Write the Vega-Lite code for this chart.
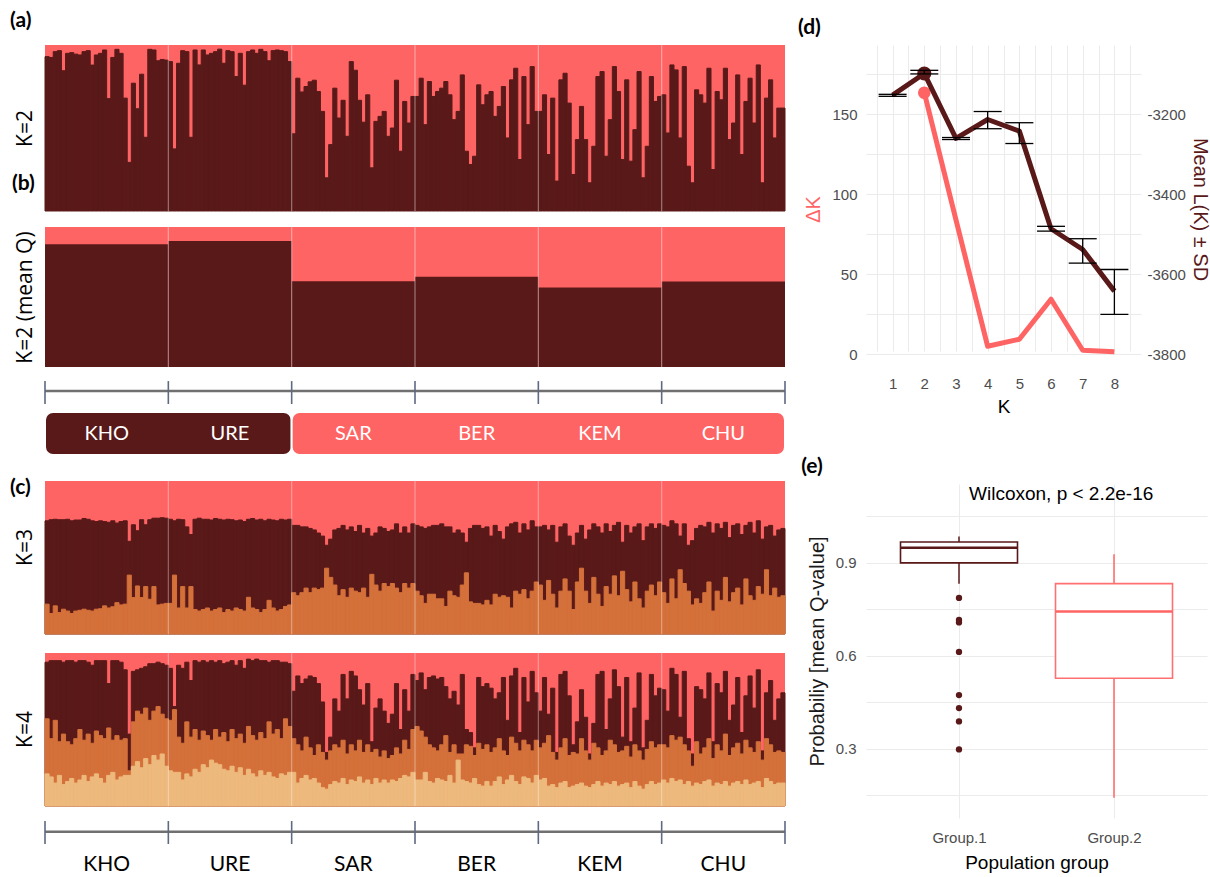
{
"$schema":"https://vega.github.io/schema/vega-lite/v6.json",
"padding":{"left":10,"top":10,"right":3,"bottom":3},
"background":"white",
"config":{"view":{"stroke":null},"font":"Liberation Sans"},
"datasets":{
"ind":[
{"id":1,"pop":"KHO","k2":0.93,"k3o":0.195,"k3d":0.74,"k4l":0.21,"k4o":0.57,"k4d":0.94},
{"id":2,"pop":"KHO","k2":0.925,"k3o":0.134,"k3d":0.747,"k4l":0.19,"k4o":0.44,"k4d":0.95},
{"id":3,"pop":"KHO","k2":0.96,"k3o":0.184,"k3d":0.75,"k4l":0.15,"k4o":0.56,"k4d":0.95},
{"id":4,"pop":"KHO","k2":0.966,"k3o":0.14,"k3d":0.747,"k4l":0.2,"k4o":0.42,"k4d":0.95},
{"id":5,"pop":"KHO","k2":0.845,"k3o":0.162,"k3d":0.747,"k4l":0.14,"k4o":0.47,"k4d":0.94},
{"id":6,"pop":"KHO","k2":0.95,"k3o":0.15,"k3d":0.75,"k4l":0.16,"k4o":0.42,"k4d":0.95},
{"id":7,"pop":"KHO","k2":0.954,"k3o":0.134,"k3d":0.74,"k4l":0.18,"k4o":0.4,"k4d":0.95},
{"id":8,"pop":"KHO","k2":0.945,"k3o":0.15,"k3d":0.745,"k4l":0.15,"k4o":0.44,"k4d":0.94},
{"id":9,"pop":"KHO","k2":0.94,"k3o":0.155,"k3d":0.745,"k4l":0.17,"k4o":0.5,"k4d":0.95},
{"id":10,"pop":"KHO","k2":0.96,"k3o":0.162,"k3d":0.755,"k4l":0.2,"k4o":0.43,"k4d":0.95},
{"id":11,"pop":"KHO","k2":0.966,"k3o":0.155,"k3d":0.75,"k4l":0.16,"k4o":0.47,"k4d":0.94},
{"id":12,"pop":"KHO","k2":0.879,"k3o":0.15,"k3d":0.74,"k4l":0.19,"k4o":0.41,"k4d":0.92},
{"id":13,"pop":"KHO","k2":0.94,"k3o":0.162,"k3d":0.735,"k4l":0.21,"k4o":0.49,"k4d":0.95},
{"id":14,"pop":"KHO","k2":0.95,"k3o":0.165,"k3d":0.74,"k4l":0.18,"k4o":0.46,"k4d":0.95},
{"id":15,"pop":"KHO","k2":0.97,"k3o":0.184,"k3d":0.735,"k4l":0.15,"k4o":0.44,"k4d":0.95},
{"id":16,"pop":"KHO","k2":0.677,"k3o":0.17,"k3d":0.73,"k4l":0.2,"k4o":0.51,"k4d":0.8},
{"id":17,"pop":"KHO","k2":0.925,"k3o":0.178,"k3d":0.74,"k4l":0.22,"k4o":0.43,"k4d":0.95},
{"id":18,"pop":"KHO","k2":0.974,"k3o":0.205,"k3d":0.725,"k4l":0.17,"k4o":0.46,"k4d":0.95},
{"id":19,"pop":"KHO","k2":0.95,"k3o":0.19,"k3d":0.735,"k4l":0.19,"k4o":0.43,"k4d":0.94},
{"id":20,"pop":"KHO","k2":0.68,"k3o":0.195,"k3d":0.74,"k4l":0.2,"k4o":0.44,"k4d":0.89},
{"id":21,"pop":"KHO","k2":0.293,"k3o":0.385,"k3d":0.606,"k4l":0.2,"k4o":0.23,"k4d":0.47},
{"id":22,"pop":"KHO","k2":0.77,"k3o":0.238,"k3d":0.714,"k4l":0.26,"k4o":0.55,"k4d":0.88},
{"id":23,"pop":"KHO","k2":0.616,"k3o":0.314,"k3d":0.675,"k4l":0.29,"k4o":0.62,"k4d":0.89},
{"id":24,"pop":"KHO","k2":0.824,"k3o":0.238,"k3d":0.747,"k4l":0.25,"k4o":0.6,"k4d":0.9},
{"id":25,"pop":"KHO","k2":0.444,"k3o":0.31,"k3d":0.714,"k4l":0.31,"k4o":0.64,"k4d":0.91},
{"id":26,"pop":"KHO","k2":0.974,"k3o":0.227,"k3d":0.747,"k4l":0.27,"k4o":0.56,"k4d":0.93},
{"id":27,"pop":"KHO","k2":0.97,"k3o":0.31,"k3d":0.757,"k4l":0.33,"k4o":0.62,"k4d":0.93},
{"id":28,"pop":"KHO","k2":0.905,"k3o":0.19,"k3d":0.757,"k4l":0.3,"k4o":0.65,"k4d":0.94},
{"id":29,"pop":"KHO","k2":0.913,"k3o":0.195,"k3d":0.76,"k4l":0.34,"k4o":0.6,"k4d":0.93},
{"id":30,"pop":"KHO","k2":0.909,"k3o":0.2,"k3d":0.757,"k4l":0.26,"k4o":0.57,"k4d":0.92},
{"id":31,"pop":"URE","k2":0.9,"k3o":0.2,"k3d":0.75,"k4l":0.23,"k4o":0.56,"k4d":0.9},
{"id":32,"pop":"URE","k2":0.374,"k3o":0.385,"k3d":0.74,"k4l":0.22,"k4o":0.63,"k4d":0.65},
{"id":33,"pop":"URE","k2":0.89,"k3o":0.17,"k3d":0.75,"k4l":0.22,"k4o":0.45,"k4d":0.92},
{"id":34,"pop":"URE","k2":0.966,"k3o":0.31,"k3d":0.747,"k4l":0.17,"k4o":0.41,"k4d":0.9},
{"id":35,"pop":"URE","k2":0.96,"k3o":0.17,"k3d":0.7,"k4l":0.21,"k4o":0.55,"k4d":0.94},
{"id":36,"pop":"URE","k2":0.444,"k3o":0.31,"k3d":0.65,"k4l":0.19,"k4o":0.45,"k4d":0.82},
{"id":37,"pop":"URE","k2":0.97,"k3o":0.16,"k3d":0.75,"k4l":0.24,"k4o":0.5,"k4d":0.95},
{"id":38,"pop":"URE","k2":0.88,"k3o":0.15,"k3d":0.757,"k4l":0.22,"k4o":0.43,"k4d":0.94},
{"id":39,"pop":"URE","k2":0.97,"k3o":0.16,"k3d":0.75,"k4l":0.27,"k4o":0.49,"k4d":0.95},
{"id":40,"pop":"URE","k2":0.94,"k3o":0.17,"k3d":0.75,"k4l":0.25,"k4o":0.46,"k4d":0.94},
{"id":41,"pop":"URE","k2":0.95,"k3o":0.15,"k3d":0.745,"k4l":0.3,"k4o":0.43,"k4d":0.95},
{"id":42,"pop":"URE","k2":0.96,"k3o":0.16,"k3d":0.755,"k4l":0.28,"k4o":0.5,"k4d":0.94},
{"id":43,"pop":"URE","k2":0.975,"k3o":0.17,"k3d":0.75,"k4l":0.27,"k4o":0.45,"k4d":0.95},
{"id":44,"pop":"URE","k2":0.89,"k3o":0.14,"k3d":0.745,"k4l":0.24,"k4o":0.48,"k4d":0.93},
{"id":45,"pop":"URE","k2":0.966,"k3o":0.16,"k3d":0.75,"k4l":0.23,"k4o":0.42,"k4d":0.94},
{"id":46,"pop":"URE","k2":0.96,"k3o":0.15,"k3d":0.747,"k4l":0.26,"k4o":0.5,"k4d":0.95},
{"id":47,"pop":"URE","k2":0.81,"k3o":0.17,"k3d":0.74,"k4l":0.22,"k4o":0.44,"k4d":0.92},
{"id":48,"pop":"URE","k2":0.95,"k3o":0.16,"k3d":0.745,"k4l":0.25,"k4o":0.47,"k4d":0.95},
{"id":49,"pop":"URE","k2":0.758,"k3o":0.15,"k3d":0.735,"k4l":0.2,"k4o":0.41,"k4d":0.9},
{"id":50,"pop":"URE","k2":0.96,"k3o":0.24,"k3d":0.75,"k4l":0.24,"k4o":0.52,"k4d":0.96},
{"id":51,"pop":"URE","k2":0.97,"k3o":0.17,"k3d":0.755,"k4l":0.21,"k4o":0.46,"k4d":0.95},
{"id":52,"pop":"URE","k2":0.95,"k3o":0.16,"k3d":0.745,"k4l":0.19,"k4o":0.43,"k4d":0.96},
{"id":53,"pop":"URE","k2":0.974,"k3o":0.14,"k3d":0.75,"k4l":0.23,"k4o":0.48,"k4d":0.95},
{"id":54,"pop":"URE","k2":0.96,"k3o":0.16,"k3d":0.74,"k4l":0.2,"k4o":0.44,"k4d":0.95},
{"id":55,"pop":"URE","k2":0.905,"k3o":0.22,"k3d":0.75,"k4l":0.22,"k4o":0.55,"k4d":0.94},
{"id":56,"pop":"URE","k2":0.966,"k3o":0.17,"k3d":0.745,"k4l":0.19,"k4o":0.47,"k4d":0.95},
{"id":57,"pop":"URE","k2":0.97,"k3o":0.15,"k3d":0.74,"k4l":0.18,"k4o":0.5,"k4d":0.95},
{"id":58,"pop":"URE","k2":0.966,"k3o":0.16,"k3d":0.75,"k4l":0.21,"k4o":0.44,"k4d":0.94},
{"id":59,"pop":"URE","k2":0.96,"k3o":0.18,"k3d":0.745,"k4l":0.2,"k4o":0.57,"k4d":0.94},
{"id":60,"pop":"URE","k2":0.9,"k3o":0.19,"k3d":0.75,"k4l":0.22,"k4o":0.52,"k4d":0.93},
{"id":61,"pop":"SAR","k2":0.465,"k3o":0.27,"k3d":0.71,"k4l":0.22,"k4o":0.44,"k4d":0.75},
{"id":62,"pop":"SAR","k2":0.8,"k3o":0.25,"k3d":0.71,"k4l":0.15,"k4o":0.4,"k4d":0.85},
{"id":63,"pop":"SAR","k2":0.717,"k3o":0.27,"k3d":0.7,"k4l":0.18,"k4o":0.36,"k4d":0.8},
{"id":64,"pop":"SAR","k2":0.75,"k3o":0.3,"k3d":0.7,"k4l":0.2,"k4o":0.45,"k4d":0.83},
{"id":65,"pop":"SAR","k2":0.778,"k3o":0.27,"k3d":0.69,"k4l":0.17,"k4o":0.38,"k4d":0.85},
{"id":66,"pop":"SAR","k2":0.788,"k3o":0.3,"k3d":0.68,"k4l":0.18,"k4o":0.33,"k4d":0.84},
{"id":67,"pop":"SAR","k2":0.72,"k3o":0.29,"k3d":0.66,"k4l":0.15,"k4o":0.4,"k4d":0.8},
{"id":68,"pop":"SAR","k2":0.6,"k3o":0.3,"k3d":0.64,"k4l":0.12,"k4o":0.35,"k4d":0.68},
{"id":69,"pop":"SAR","k2":0.2,"k3o":0.43,"k3d":0.58,"k4l":0.11,"k4o":0.3,"k4d":0.35},
{"id":70,"pop":"SAR","k2":0.4,"k3o":0.37,"k3d":0.62,"k4l":0.14,"k4o":0.36,"k4d":0.45},
{"id":71,"pop":"SAR","k2":0.74,"k3o":0.32,"k3d":0.68,"k4l":0.16,"k4o":0.4,"k4d":0.7},
{"id":72,"pop":"SAR","k2":0.56,"k3o":0.25,"k3d":0.69,"k4l":0.15,"k4o":0.38,"k4d":0.62},
{"id":73,"pop":"SAR","k2":0.667,"k3o":0.29,"k3d":0.71,"k4l":0.18,"k4o":0.43,"k4d":0.86},
{"id":74,"pop":"SAR","k2":0.45,"k3o":0.24,"k3d":0.68,"k4l":0.14,"k4o":0.34,"k4d":0.7},
{"id":75,"pop":"SAR","k2":0.9,"k3o":0.3,"k3d":0.7,"k4l":0.17,"k4o":0.4,"k4d":0.88},
{"id":76,"pop":"SAR","k2":0.848,"k3o":0.28,"k3d":0.67,"k4l":0.16,"k4o":0.36,"k4d":0.85},
{"id":77,"pop":"SAR","k2":0.667,"k3o":0.27,"k3d":0.71,"k4l":0.19,"k4o":0.43,"k4d":0.76},
{"id":78,"pop":"SAR","k2":0.535,"k3o":0.3,"k3d":0.66,"k4l":0.15,"k4o":0.35,"k4d":0.66},
{"id":79,"pop":"SAR","k2":0.7,"k3o":0.24,"k3d":0.69,"k4l":0.17,"k4o":0.4,"k4d":0.8},
{"id":80,"pop":"SAR","k2":0.26,"k3o":0.39,"k3d":0.64,"k4l":0.14,"k4o":0.35,"k4d":0.42},
{"id":81,"pop":"SAR","k2":0.54,"k3o":0.32,"k3d":0.66,"k4l":0.18,"k4o":0.37,"k4d":0.64},
{"id":82,"pop":"SAR","k2":0.57,"k3o":0.28,"k3d":0.7,"k4l":0.15,"k4o":0.32,"k4d":0.7},
{"id":83,"pop":"SAR","k2":0.6,"k3o":0.33,"k3d":0.69,"k4l":0.17,"k4o":0.36,"k4d":0.62},
{"id":84,"pop":"SAR","k2":0.45,"k3o":0.31,"k3d":0.67,"k4l":0.15,"k4o":0.31,"k4d":0.54},
{"id":85,"pop":"SAR","k2":0.5,"k3o":0.33,"k3d":0.68,"k4l":0.17,"k4o":0.33,"k4d":0.6},
{"id":86,"pop":"SAR","k2":0.788,"k3o":0.3,"k3d":0.72,"k4l":0.16,"k4o":0.38,"k4d":0.8},
{"id":87,"pop":"SAR","k2":0.36,"k3o":0.27,"k3d":0.66,"k4l":0.18,"k4o":0.34,"k4d":0.5},
{"id":88,"pop":"SAR","k2":0.66,"k3o":0.33,"k3d":0.7,"k4l":0.2,"k4o":0.43,"k4d":0.76},
{"id":89,"pop":"SAR","k2":0.53,"k3o":0.3,"k3d":0.66,"k4l":0.19,"k4o":0.37,"k4d":0.62},
{"id":90,"pop":"SAR","k2":0.69,"k3o":0.33,"k3d":0.72,"k4l":0.22,"k4o":0.5,"k4d":0.86},
{"id":91,"pop":"BER","k2":0.69,"k3o":0.28,"k3d":0.71,"k4l":0.17,"k4o":0.52,"k4d":0.82},
{"id":92,"pop":"BER","k2":0.8,"k3o":0.25,"k3d":0.7,"k4l":0.17,"k4o":0.49,"k4d":0.87},
{"id":93,"pop":"BER","k2":0.52,"k3o":0.2,"k3d":0.69,"k4l":0.22,"k4o":0.45,"k4d":0.76},
{"id":94,"pop":"BER","k2":0.78,"k3o":0.26,"k3d":0.7,"k4l":0.16,"k4o":0.4,"k4d":0.84},
{"id":95,"pop":"BER","k2":0.69,"k3o":0.26,"k3d":0.71,"k4l":0.15,"k4o":0.38,"k4d":0.85},
{"id":96,"pop":"BER","k2":0.72,"k3o":0.23,"k3d":0.71,"k4l":0.18,"k4o":0.36,"k4d":0.83},
{"id":97,"pop":"BER","k2":0.74,"k3o":0.23,"k3d":0.72,"k4l":0.17,"k4o":0.4,"k4d":0.84},
{"id":98,"pop":"BER","k2":0.78,"k3o":0.18,"k3d":0.7,"k4l":0.16,"k4o":0.46,"k4d":0.78},
{"id":99,"pop":"BER","k2":0.7,"k3o":0.28,"k3d":0.7,"k4l":0.2,"k4o":0.35,"k4d":0.7},
{"id":100,"pop":"BER","k2":0.55,"k3o":0.25,"k3d":0.66,"k4l":0.15,"k4o":0.4,"k4d":0.75},
{"id":101,"pop":"BER","k2":0.6,"k3o":0.24,"k3d":0.68,"k4l":0.3,"k4o":0.34,"k4d":0.66},
{"id":102,"pop":"BER","k2":0.82,"k3o":0.32,"k3d":0.66,"k4l":0.17,"k4o":0.34,"k4d":0.86},
{"id":103,"pop":"BER","k2":0.36,"k3o":0.4,"k3d":0.6,"k4l":0.16,"k4o":0.4,"k4d":0.5},
{"id":104,"pop":"BER","k2":0.28,"k3o":0.21,"k3d":0.69,"k4l":0.15,"k4o":0.39,"k4d":0.48},
{"id":105,"pop":"BER","k2":0.33,"k3o":0.2,"k3d":0.71,"k4l":0.18,"k4o":0.33,"k4d":0.38},
{"id":106,"pop":"BER","k2":0.76,"k3o":0.2,"k3d":0.71,"k4l":0.14,"k4o":0.41,"k4d":0.84},
{"id":107,"pop":"BER","k2":0.64,"k3o":0.19,"k3d":0.69,"k4l":0.13,"k4o":0.37,"k4d":0.78},
{"id":108,"pop":"BER","k2":0.7,"k3o":0.22,"k3d":0.7,"k4l":0.16,"k4o":0.4,"k4d":0.8},
{"id":109,"pop":"BER","k2":0.72,"k3o":0.19,"k3d":0.64,"k4l":0.13,"k4o":0.35,"k4d":0.77},
{"id":110,"pop":"BER","k2":0.57,"k3o":0.26,"k3d":0.71,"k4l":0.16,"k4o":0.38,"k4d":0.7},
{"id":111,"pop":"BER","k2":0.63,"k3o":0.24,"k3d":0.67,"k4l":0.19,"k4o":0.44,"k4d":0.74},
{"id":112,"pop":"BER","k2":0.75,"k3o":0.25,"k3d":0.62,"k4l":0.14,"k4o":0.36,"k4d":0.84},
{"id":113,"pop":"BER","k2":0.44,"k3o":0.24,"k3d":0.7,"k4l":0.17,"k4o":0.33,"k4d":0.56},
{"id":114,"pop":"BER","k2":0.79,"k3o":0.17,"k3d":0.72,"k4l":0.2,"k4o":0.45,"k4d":0.85},
{"id":115,"pop":"BER","k2":0.86,"k3o":0.28,"k3d":0.73,"k4l":0.16,"k4o":0.41,"k4d":0.9},
{"id":116,"pop":"BER","k2":0.31,"k3o":0.26,"k3d":0.66,"k4l":0.14,"k4o":0.36,"k4d":0.48},
{"id":117,"pop":"BER","k2":0.81,"k3o":0.29,"k3d":0.72,"k4l":0.19,"k4o":0.43,"k4d":0.84},
{"id":118,"pop":"BER","k2":0.52,"k3o":0.23,"k3d":0.68,"k4l":0.18,"k4o":0.4,"k4d":0.68},
{"id":119,"pop":"BER","k2":0.87,"k3o":0.28,"k3d":0.74,"k4l":0.15,"k4o":0.36,"k4d":0.88},
{"id":120,"pop":"BER","k2":0.6,"k3o":0.34,"k3d":0.7,"k4l":0.2,"k4o":0.43,"k4d":0.74},
{"id":121,"pop":"KEM","k2":0.6,"k3o":0.32,"k3d":0.7,"k4l":0.17,"k4o":0.38,"k4d":0.62},
{"id":122,"pop":"KEM","k2":0.7,"k3o":0.22,"k3d":0.71,"k4l":0.18,"k4o":0.41,"k4d":0.84},
{"id":123,"pop":"KEM","k2":0.34,"k3o":0.35,"k3d":0.68,"k4l":0.13,"k4o":0.46,"k4d":0.6},
{"id":124,"pop":"KEM","k2":0.68,"k3o":0.26,"k3d":0.71,"k4l":0.14,"k4o":0.35,"k4d":0.77},
{"id":125,"pop":"KEM","k2":0.18,"k3o":0.17,"k3d":0.6,"k4l":0.12,"k4o":0.3,"k4d":0.35},
{"id":126,"pop":"KEM","k2":0.79,"k3o":0.28,"k3d":0.7,"k4l":0.15,"k4o":0.38,"k4d":0.86},
{"id":127,"pop":"KEM","k2":0.83,"k3o":0.36,"k3d":0.72,"k4l":0.16,"k4o":0.44,"k4d":0.88},
{"id":128,"pop":"KEM","k2":0.65,"k3o":0.28,"k3d":0.64,"k4l":0.12,"k4o":0.33,"k4d":0.72},
{"id":129,"pop":"KEM","k2":0.22,"k3o":0.16,"k3d":0.58,"k4l":0.13,"k4o":0.35,"k4d":0.4},
{"id":130,"pop":"KEM","k2":0.43,"k3o":0.34,"k3d":0.66,"k4l":0.14,"k4o":0.34,"k4d":0.55},
{"id":131,"pop":"KEM","k2":0.63,"k3o":0.43,"k3d":0.71,"k4l":0.15,"k4o":0.44,"k4d":0.76},
{"id":132,"pop":"KEM","k2":0.43,"k3o":0.28,"k3d":0.62,"k4l":0.13,"k4o":0.36,"k4d":0.58},
{"id":133,"pop":"KEM","k2":0.17,"k3o":0.2,"k3d":0.68,"k4l":0.12,"k4o":0.3,"k4d":0.34},
{"id":134,"pop":"KEM","k2":0.39,"k3o":0.37,"k3d":0.72,"k4l":0.14,"k4o":0.41,"k4d":0.54},
{"id":135,"pop":"KEM","k2":0.81,"k3o":0.26,"k3d":0.7,"k4l":0.16,"k4o":0.38,"k4d":0.86},
{"id":136,"pop":"KEM","k2":0.84,"k3o":0.18,"k3d":0.66,"k4l":0.13,"k4o":0.33,"k4d":0.88},
{"id":137,"pop":"KEM","k2":0.33,"k3o":0.31,"k3d":0.72,"k4l":0.15,"k4o":0.36,"k4d":0.5},
{"id":138,"pop":"KEM","k2":0.55,"k3o":0.26,"k3d":0.67,"k4l":0.14,"k4o":0.43,"k4d":0.7},
{"id":139,"pop":"KEM","k2":0.87,"k3o":0.38,"k3d":0.71,"k4l":0.16,"k4o":0.4,"k4d":0.89},
{"id":140,"pop":"KEM","k2":0.72,"k3o":0.25,"k3d":0.73,"k4l":0.13,"k4o":0.35,"k4d":0.78},
{"id":141,"pop":"KEM","k2":0.31,"k3o":0.41,"k3d":0.6,"k4l":0.14,"k4o":0.36,"k4d":0.45},
{"id":142,"pop":"KEM","k2":0.79,"k3o":0.29,"k3d":0.71,"k4l":0.15,"k4o":0.39,"k4d":0.84},
{"id":143,"pop":"KEM","k2":0.3,"k3o":0.21,"k3d":0.66,"k4l":0.12,"k4o":0.32,"k4d":0.42},
{"id":144,"pop":"KEM","k2":0.49,"k3o":0.34,"k3d":0.7,"k4l":0.16,"k4o":0.4,"k4d":0.64},
{"id":145,"pop":"KEM","k2":0.84,"k3o":0.23,"k3d":0.72,"k4l":0.13,"k4o":0.36,"k4d":0.87},
{"id":146,"pop":"KEM","k2":0.2,"k3o":0.17,"k3d":0.61,"k4l":0.11,"k4o":0.3,"k4d":0.38},
{"id":147,"pop":"KEM","k2":0.39,"k3o":0.28,"k3d":0.7,"k4l":0.14,"k4o":0.37,"k4d":0.56},
{"id":148,"pop":"KEM","k2":0.81,"k3o":0.32,"k3d":0.72,"k4l":0.16,"k4o":0.42,"k4d":0.86},
{"id":149,"pop":"KEM","k2":0.66,"k3o":0.25,"k3d":0.69,"k4l":0.14,"k4o":0.38,"k4d":0.72},
{"id":150,"pop":"KEM","k2":0.69,"k3o":0.34,"k3d":0.72,"k4l":0.15,"k4o":0.4,"k4d":0.77},
{"id":151,"pop":"CHU","k2":0.7,"k3o":0.27,"k3d":0.71,"k4l":0.17,"k4o":0.4,"k4d":0.76},
{"id":152,"pop":"CHU","k2":0.47,"k3o":0.2,"k3d":0.7,"k4l":0.15,"k4o":0.38,"k4d":0.62},
{"id":153,"pop":"CHU","k2":0.88,"k3o":0.36,"k3d":0.74,"k4l":0.18,"k4o":0.46,"k4d":0.9},
{"id":154,"pop":"CHU","k2":0.85,"k3o":0.23,"k3d":0.72,"k4l":0.16,"k4o":0.43,"k4d":0.86},
{"id":155,"pop":"CHU","k2":0.44,"k3o":0.42,"k3d":0.64,"k4l":0.17,"k4o":0.45,"k4d":0.58},
{"id":156,"pop":"CHU","k2":0.87,"k3o":0.33,"k3d":0.72,"k4l":0.14,"k4o":0.4,"k4d":0.88},
{"id":157,"pop":"CHU","k2":0.27,"k3o":0.28,"k3d":0.58,"k4l":0.16,"k4o":0.36,"k4d":0.44},
{"id":158,"pop":"CHU","k2":0.17,"k3o":0.19,"k3d":0.61,"k4l":0.13,"k4o":0.26,"k4d":0.34},
{"id":159,"pop":"CHU","k2":0.73,"k3o":0.23,"k3d":0.69,"k4l":0.15,"k4o":0.42,"k4d":0.78},
{"id":160,"pop":"CHU","k2":0.7,"k3o":0.2,"k3d":0.71,"k4l":0.14,"k4o":0.34,"k4d":0.76},
{"id":161,"pop":"CHU","k2":0.65,"k3o":0.27,"k3d":0.7,"k4l":0.16,"k4o":0.38,"k4d":0.7},
{"id":162,"pop":"CHU","k2":0.86,"k3o":0.34,"k3d":0.73,"k4l":0.17,"k4o":0.44,"k4d":0.87},
{"id":163,"pop":"CHU","k2":0.25,"k3o":0.15,"k3d":0.66,"k4l":0.13,"k4o":0.31,"k4d":0.42},
{"id":164,"pop":"CHU","k2":0.72,"k3o":0.28,"k3d":0.72,"k4l":0.15,"k4o":0.4,"k4d":0.8},
{"id":165,"pop":"CHU","k2":0.67,"k3o":0.22,"k3d":0.69,"k4l":0.14,"k4o":0.36,"k4d":0.74},
{"id":166,"pop":"CHU","k2":0.86,"k3o":0.37,"k3d":0.73,"k4l":0.16,"k4o":0.47,"k4d":0.88},
{"id":167,"pop":"CHU","k2":0.43,"k3o":0.21,"k3d":0.63,"k4l":0.13,"k4o":0.33,"k4d":0.56},
{"id":168,"pop":"CHU","k2":0.53,"k3o":0.27,"k3d":0.71,"k4l":0.15,"k4o":0.38,"k4d":0.66},
{"id":169,"pop":"CHU","k2":0.82,"k3o":0.3,"k3d":0.72,"k4l":0.16,"k4o":0.41,"k4d":0.84},
{"id":170,"pop":"CHU","k2":0.34,"k3o":0.19,"k3d":0.65,"k4l":0.14,"k4o":0.34,"k4d":0.48},
{"id":171,"pop":"CHU","k2":0.66,"k3o":0.36,"k3d":0.71,"k4l":0.17,"k4o":0.43,"k4d":0.72},
{"id":172,"pop":"CHU","k2":0.8,"k3o":0.25,"k3d":0.73,"k4l":0.14,"k4o":0.38,"k4d":0.85},
{"id":173,"pop":"CHU","k2":0.53,"k3o":0.22,"k3d":0.66,"k4l":0.15,"k4o":0.35,"k4d":0.64},
{"id":174,"pop":"CHU","k2":0.88,"k3o":0.31,"k3d":0.74,"k4l":0.16,"k4o":0.42,"k4d":0.89},
{"id":175,"pop":"CHU","k2":0.17,"k3o":0.26,"k3d":0.62,"k4l":0.12,"k4o":0.3,"k4d":0.36},
{"id":176,"pop":"CHU","k2":0.68,"k3o":0.42,"k3d":0.7,"k4l":0.18,"k4o":0.44,"k4d":0.74},
{"id":177,"pop":"CHU","k2":0.79,"k3o":0.25,"k3d":0.71,"k4l":0.16,"k4o":0.4,"k4d":0.82},
{"id":178,"pop":"CHU","k2":0.44,"k3o":0.3,"k3d":0.64,"k4l":0.14,"k4o":0.35,"k4d":0.56},
{"id":179,"pop":"CHU","k2":0.62,"k3o":0.24,"k3d":0.68,"k4l":0.15,"k4o":0.36,"k4d":0.7},
{"id":180,"pop":"CHU","k2":0.62,"k3o":0.25,"k3d":0.69,"k4l":0.15,"k4o":0.35,"k4d":0.74}
],
"pops":[{"pop":"KHO","q":0.876},{"pop":"URE","q":0.9},{"pop":"SAR","q":0.613},{"pop":"BER","q":0.644},{"pop":"KEM","q":0.568},{"pop":"CHU","q":0.611}],
"grps":[{"grp":"Group.1","from":0,"to":2},{"grp":"Group.2","from":2,"to":6}],
"dk":[
{"K":1,"dK":null,"L":-3152,"lo":-3155,"hi":-3150},
{"K":2,"dK":163.5,"L":-3098,"lo":-3099,"hi":-3090},
{"K":3,"dK":84,"L":-3260,"lo":-3263,"hi":-3258},
{"K":4,"dK":5,"L":-3213,"lo":-3236,"hi":-3193},
{"K":5,"dK":9.4,"L":-3242,"lo":-3273,"hi":-3221},
{"K":6,"dK":34.4,"L":-3486,"lo":-3492,"hi":-3480},
{"K":7,"dK":2.5,"L":-3538,"lo":-3572,"hi":-3511},
{"K":8,"dK":1.6,"L":-3642,"lo":-3700,"hi":-3588}
],
"box":[{"g":"Group.1","lo":0.832,"q1":0.899,"med":0.948,"q3":0.966,"hi":0.984},{"g":"Group.2","lo":0.142,"q1":0.527,"med":0.742,"q3":0.832,"hi":0.927}],
"out":[{"g":"Group.1","v":0.786},{"g":"Group.1","v":0.715},{"g":"Group.1","v":0.707},{"g":"Group.1","v":0.612},{"g":"Group.1","v":0.473},{"g":"Group.1","v":0.431},{"g":"Group.1","v":0.388},{"g":"Group.1","v":0.298}],
"note":[{"label":"Wilcoxon, p < 2.2e-16"}]
},
"concat":[
{
"vconcat":[
{"width":740,"height":166,"data":{"name":"ind"},
 "title":{"text":"(a)","anchor":"start","frame":"bounds","offset":13,"dx":-4,"font":"Lato","fontSize":21,"fontWeight":"bold","color":"#000000"},
 "layer":[
  {"transform":[{"filter":"datum.id == 1"}],"mark":{"type":"rect","color":"#FF6464"},
   "encoding":{"y":{"datum":0,"type":"quantitative","scale":{"domain":[0,1],"nice":false},"axis":{"title":"K=2","labels":false,"ticks":false,"domain":false,"grid":false,"tickSize":0,"labelPadding":0,"titlePadding":10,"titleFont":"Open Sans","titleFontSize":21,"titleFontWeight":"normal","titleColor":"#000000"}},"y2":{"datum":1}}},
  {"mark":{"type":"bar","color":"#5A1919","stroke":"#5A1919","strokeWidth":1},
   "encoding":{"x":{"field":"id","type":"ordinal","scale":{"paddingInner":0,"paddingOuter":0},"axis":null},"y":{"field":"k2","type":"quantitative","scale":{"domain":[0,1],"nice":false},"axis":{"title":"K=2","labels":false,"ticks":false,"domain":false,"grid":false,"tickSize":0,"labelPadding":0,"titlePadding":10,"titleFont":"Open Sans","titleFontSize":21,"titleFontWeight":"normal","titleColor":"#000000"}}}},
  {"mark":{"type":"rule","color":"#FFFFFF","strokeWidth":1.2},
   "encoding":{"x":{"field":"id","type":"ordinal","bandPosition":0,"scale":{"paddingInner":0,"paddingOuter":0},"axis":null},"y":{"datum":0,"type":"quantitative","scale":{"domain":[0,1],"nice":false},"axis":{"title":"K=2","labels":false,"ticks":false,"domain":false,"grid":false,"tickSize":0,"labelPadding":0,"titlePadding":10,"titleFont":"Open Sans","titleFontSize":21,"titleFontWeight":"normal","titleColor":"#000000"}},"y2":{"datum":1},"opacity":{"condition":{"test":"datum.id % 30 == 1 && datum.id > 1","value":0.4},"value":0}}}
 ]},
{"width":740,"height":156,"data":{"name":"pops"},
 "title":{"text":"(b)","anchor":"start","frame":"bounds","offset":17,"dx":-2,"font":"Lato","fontSize":21,"fontWeight":"bold","color":"#000000"},
 "layer":[
  {"transform":[{"filter":"datum.pop == 'KHO'"}],"mark":{"type":"rect","color":"#FF6464"},
   "encoding":{"y":{"datum":0,"type":"quantitative","scale":{"domain":[0,1.1143],"nice":false},"axis":{"title":"K=2 (mean Q)","titleY":86,"labels":false,"ticks":false,"domain":false,"grid":false,"tickSize":0,"labelPadding":0,"titlePadding":10,"titleFont":"Open Sans","titleFontSize":21,"titleFontWeight":"normal","titleColor":"#000000"}},"y2":{"datum":1}}},
  {"mark":{"type":"bar","color":"#5A1919"},
   "encoding":{"x":{"field":"pop","type":"nominal","scale":{"domain":["KHO","URE","SAR","BER","KEM","CHU"],"paddingInner":0,"paddingOuter":0},"axis":null},"y":{"field":"q","type":"quantitative","scale":{"domain":[0,1.1143],"nice":false},"axis":{"title":"K=2 (mean Q)","titleY":86,"labels":false,"ticks":false,"domain":false,"grid":false,"tickSize":0,"labelPadding":0,"titlePadding":10,"titleFont":"Open Sans","titleFontSize":21,"titleFontWeight":"normal","titleColor":"#000000"}}}},
  {"mark":{"type":"rule","color":"#FFFFFF","strokeWidth":1.2},
   "encoding":{"x":{"field":"pop","type":"nominal","bandPosition":0,"scale":{"domain":["KHO","URE","SAR","BER","KEM","CHU"],"paddingInner":0,"paddingOuter":0},"axis":null},"y":{"datum":0,"type":"quantitative","scale":{"domain":[0,1.1143],"nice":false},"axis":{"title":"K=2 (mean Q)","titleY":86,"labels":false,"ticks":false,"domain":false,"grid":false,"tickSize":0,"labelPadding":0,"titlePadding":10,"titleFont":"Open Sans","titleFontSize":21,"titleFontWeight":"normal","titleColor":"#000000"}},"y2":{"datum":1},"opacity":{"condition":{"test":"datum.pop != 'KHO'","value":0.4},"value":0}}}
 ]},
{"width":740,"height":37,"data":{"name":"pops"},
 "layer":[
  {"transform":[{"filter":"datum.pop == 'KHO'"}],"mark":{"type":"rule","color":"#707070","strokeWidth":2.5},
   "encoding":{"y":{"datum":0.35,"type":"quantitative","scale":{"domain":[0,1],"nice":false},"axis":null}}},
  {"mark":{"type":"rule","color":"#5E6A80","strokeWidth":1.6},
   "encoding":{"x":{"field":"pop","type":"nominal","bandPosition":0,"scale":{"domain":["KHO","URE","SAR","BER","KEM","CHU"],"paddingInner":0,"paddingOuter":0},"axis":null},"y":{"datum":0,"type":"quantitative","scale":{"domain":[0,1],"nice":false},"axis":null},"y2":{"datum":0.62}}},
  {"mark":{"type":"rule","color":"#5E6A80","strokeWidth":1.6},
   "encoding":{"x":{"field":"pop","type":"nominal","bandPosition":1,"scale":{"domain":["KHO","URE","SAR","BER","KEM","CHU"],"paddingInner":0,"paddingOuter":0},"axis":null},"y":{"datum":0,"type":"quantitative","scale":{"domain":[0,1],"nice":false},"axis":null},"y2":{"datum":0.62},"opacity":{"condition":{"test":"datum.pop == 'CHU'","value":1},"value":0}}}
 ]},
{"width":740,"height":51,
 "layer":[
  {"data":{"name":"grps"},"mark":{"type":"rect","cornerRadius":8,"stroke":"#FFFFFF","strokeWidth":2},
   "encoding":{"x":{"field":"from","type":"quantitative","scale":{"domain":[0,6],"nice":false,"zero":false},"axis":null},"x2":{"field":"to"},"y":{"datum":0,"type":"quantitative","scale":{"domain":[0,1],"nice":false},"axis":null},"y2":{"datum":0.843},
    "color":{"field":"grp","type":"nominal","scale":{"domain":["Group.1","Group.2"],"range":["#5A1919","#FF6464"]},"legend":null}}},
  {"data":{"name":"pops"},"mark":{"type":"text","color":"#FFFFFF","font":"Lato","fontSize":20},
   "encoding":{"x":{"field":"pop","type":"nominal","scale":{"domain":["KHO","URE","SAR","BER","KEM","CHU"],"paddingInner":0,"paddingOuter":0},"axis":null},"y":{"datum":0.42,"type":"quantitative","scale":{"domain":[0,1],"nice":false},"axis":null},"text":{"field":"pop"}}}
 ],
 "resolve":{"scale":{"x":"independent"}}},
{"width":740,"height":179,"data":{"name":"ind"},
 "title":{"text":"(c)","anchor":"start","frame":"bounds","offset":-43,"dx":-4,"font":"Lato","fontSize":21,"fontWeight":"bold","color":"#000000"},
 "layer":[
  {"transform":[{"filter":"datum.id == 1"}],"mark":{"type":"rect","color":"#FF6464"},
   "encoding":{"y":{"datum":0,"type":"quantitative","scale":{"domain":[0,1.17],"nice":false},"axis":{"title":"K=3","titleY":92,"labels":false,"ticks":false,"domain":false,"grid":false,"tickSize":0,"labelPadding":0,"titlePadding":10,"titleFont":"Open Sans","titleFontSize":21,"titleFontWeight":"normal","titleColor":"#000000"}},"y2":{"datum":1}}},
  {"mark":{"type":"bar","color":"#5A1919","stroke":"#5A1919","strokeWidth":1},
   "encoding":{"x":{"field":"id","type":"ordinal","scale":{"paddingInner":0,"paddingOuter":0},"axis":null},"y":{"field":"k3d","type":"quantitative","scale":{"domain":[0,1.17],"nice":false},"axis":{"title":"K=3","titleY":92,"labels":false,"ticks":false,"domain":false,"grid":false,"tickSize":0,"labelPadding":0,"titlePadding":10,"titleFont":"Open Sans","titleFontSize":21,"titleFontWeight":"normal","titleColor":"#000000"}}}},
  {"mark":{"type":"bar","color":"#D4703A","stroke":"#D4703A","strokeWidth":1},
   "encoding":{"x":{"field":"id","type":"ordinal","scale":{"paddingInner":0,"paddingOuter":0},"axis":null},"y":{"field":"k3o","type":"quantitative","scale":{"domain":[0,1.17],"nice":false},"axis":{"title":"K=3","titleY":92,"labels":false,"ticks":false,"domain":false,"grid":false,"tickSize":0,"labelPadding":0,"titlePadding":10,"titleFont":"Open Sans","titleFontSize":21,"titleFontWeight":"normal","titleColor":"#000000"}}}},
  {"mark":{"type":"rule","color":"#FFFFFF","strokeWidth":1.2},
   "encoding":{"x":{"field":"id","type":"ordinal","bandPosition":0,"scale":{"paddingInner":0,"paddingOuter":0},"axis":null},"y":{"datum":0,"type":"quantitative","scale":{"domain":[0,1.17],"nice":false},"axis":{"title":"K=3","titleY":92,"labels":false,"ticks":false,"domain":false,"grid":false,"tickSize":0,"labelPadding":0,"titlePadding":10,"titleFont":"Open Sans","titleFontSize":21,"titleFontWeight":"normal","titleColor":"#000000"}},"y2":{"datum":1},"opacity":{"condition":{"test":"datum.id % 30 == 1 && datum.id > 1","value":0.35},"value":0}}}
 ]},
{"width":740,"height":172,"data":{"name":"ind"},
 "layer":[
  {"transform":[{"filter":"datum.id == 1"}],"mark":{"type":"rect","color":"#FF6464"},
   "encoding":{"y":{"datum":0,"type":"quantitative","scale":{"domain":[0,1.1242],"nice":false},"axis":{"title":"K=4","titleY":95,"labels":false,"ticks":false,"domain":false,"grid":false,"tickSize":0,"labelPadding":0,"titlePadding":10,"titleFont":"Open Sans","titleFontSize":21,"titleFontWeight":"normal","titleColor":"#000000"}},"y2":{"datum":1}}},
  {"mark":{"type":"bar","color":"#5A1919","stroke":"#5A1919","strokeWidth":1},
   "encoding":{"x":{"field":"id","type":"ordinal","scale":{"paddingInner":0,"paddingOuter":0},"axis":null},"y":{"field":"k4d","type":"quantitative","scale":{"domain":[0,1.1242],"nice":false},"axis":{"title":"K=4","titleY":95,"labels":false,"ticks":false,"domain":false,"grid":false,"tickSize":0,"labelPadding":0,"titlePadding":10,"titleFont":"Open Sans","titleFontSize":21,"titleFontWeight":"normal","titleColor":"#000000"}}}},
  {"mark":{"type":"bar","color":"#D4703A","stroke":"#D4703A","strokeWidth":1},
   "encoding":{"x":{"field":"id","type":"ordinal","scale":{"paddingInner":0,"paddingOuter":0},"axis":null},"y":{"field":"k4o","type":"quantitative","scale":{"domain":[0,1.1242],"nice":false},"axis":{"title":"K=4","titleY":95,"labels":false,"ticks":false,"domain":false,"grid":false,"tickSize":0,"labelPadding":0,"titlePadding":10,"titleFont":"Open Sans","titleFontSize":21,"titleFontWeight":"normal","titleColor":"#000000"}}}},
  {"mark":{"type":"bar","color":"#EDB97D","stroke":"#EDB97D","strokeWidth":1},
   "encoding":{"x":{"field":"id","type":"ordinal","scale":{"paddingInner":0,"paddingOuter":0},"axis":null},"y":{"field":"k4l","type":"quantitative","scale":{"domain":[0,1.1242],"nice":false},"axis":{"title":"K=4","titleY":95,"labels":false,"ticks":false,"domain":false,"grid":false,"tickSize":0,"labelPadding":0,"titlePadding":10,"titleFont":"Open Sans","titleFontSize":21,"titleFontWeight":"normal","titleColor":"#000000"}}}},
  {"mark":{"type":"rule","color":"#FFFFFF","strokeWidth":1.2},
   "encoding":{"x":{"field":"id","type":"ordinal","bandPosition":0,"scale":{"paddingInner":0,"paddingOuter":0},"axis":null},"y":{"datum":0,"type":"quantitative","scale":{"domain":[0,1.1242],"nice":false},"axis":{"title":"K=4","titleY":95,"labels":false,"ticks":false,"domain":false,"grid":false,"tickSize":0,"labelPadding":0,"titlePadding":10,"titleFont":"Open Sans","titleFontSize":21,"titleFontWeight":"normal","titleColor":"#000000"}},"y2":{"datum":1},"opacity":{"condition":{"test":"datum.id % 30 == 1 && datum.id > 1","value":0.35},"value":0}}}
 ]},
{"width":740,"height":38,"data":{"name":"pops"},
 "layer":[
  {"transform":[{"filter":"datum.pop == 'KHO'"}],"mark":{"type":"rule","color":"#707070","strokeWidth":2.5},
   "encoding":{"y":{"datum":0.324,"type":"quantitative","scale":{"domain":[0,1],"nice":false},"axis":null}}},
  {"mark":{"type":"rule","color":"#5E6A80","strokeWidth":1.6},
   "encoding":{"x":{"field":"pop","type":"nominal","bandPosition":0,"scale":{"domain":["KHO","URE","SAR","BER","KEM","CHU"],"paddingInner":0,"paddingOuter":0},
     "axis":{"orient":"bottom","bandPosition":0.5,"ticks":false,"tickSize":0,"domain":false,"grid":false,"labelAngle":0,"labelFont":"Lato","labelFontSize":21,"labelColor":"#000000","labelPadding":9,"title":null}},
    "y":{"datum":0,"type":"quantitative","scale":{"domain":[0,1],"nice":false},"axis":null},"y2":{"datum":0.605}}},
  {"mark":{"type":"rule","color":"#5E6A80","strokeWidth":1.6},
   "encoding":{"x":{"field":"pop","type":"nominal","bandPosition":1,"scale":{"domain":["KHO","URE","SAR","BER","KEM","CHU"],"paddingInner":0,"paddingOuter":0},
     "axis":{"orient":"bottom","bandPosition":0.5,"ticks":false,"tickSize":0,"domain":false,"grid":false,"labelAngle":0,"labelFont":"Lato","labelFontSize":21,"labelColor":"#000000","labelPadding":9,"title":null}},
    "y":{"datum":0,"type":"quantitative","scale":{"domain":[0,1],"nice":false},"axis":null},"y2":{"datum":0.605},"opacity":{"condition":{"test":"datum.pop == 'CHU'","value":1},"value":0}}}
 ]}
],
"spacing":0,
"bounds":"flush"
},
{
"vconcat":[
{"width":275,"height":319,"data":{"name":"dk"},
 "title":{"text":"(d)","anchor":"start","frame":"bounds","offset":7,"dx":-6,"font":"Lato","fontSize":21,"fontWeight":"bold","color":"#000000"},
 "encoding":{"x":{"field":"K","type":"quantitative","scale":{"domain":[0.16,8.84],"nice":false,"zero":false},
   "axis":{"values":[0.5,1,1.5,2,2.5,3,3.5,4,4.5,5,5.5,6,6.5,7,7.5,8,8.5],"labelExpr":"datum.value % 1 == 0 ? '' + datum.value : ''","grid":true,"gridColor":"#EBEBEB","gridWidth":1,"ticks":false,"tickSize":0,"domain":false,"labelColor":"#4D4D4D","labelFontSize":15,"labelPadding":12,"labelFlush":false,"labelOverlap":false,"title":"K","titleFontSize":19,"titleFontWeight":"normal","titleColor":"#000000","titlePadding":6}}},
 "layer":[
  {"encoding":{"y":{"field":"dK","type":"quantitative","scale":{"domain":[-6.06,185.2],"range":[319,13],"nice":false,"zero":false},
     "axis":{"values":[0,25,50,75,100,125,150,175],"labelExpr":"datum.value % 50 == 0 ? datum.label : ''","grid":true,"gridColor":"#EBEBEB","gridWidth":1,"ticks":false,"tickSize":0,"domain":false,"labelColor":"#4D4D4D","labelFontSize":15,"labelPadding":9,"labelOverlap":false,"title":"ΔK","titleY":164,"titleColor":"#FF6464","titleFontSize":20,"titleFontWeight":"normal","titlePadding":8}}},
   "layer":[
    {"mark":{"type":"line","color":"#FF6464","strokeWidth":5,"strokeJoin":"round"}},
    {"transform":[{"filter":"datum.K == 2"}],"mark":{"type":"point","filled":true,"color":"#FF6464","size":160,"opacity":1}}
   ]},
  {"encoding":{"y":{"field":"L","type":"quantitative","scale":{"domain":[-3824.2,-3059.2],"range":[319,13],"nice":false,"zero":false},
     "axis":{"orient":"right","values":[-3800,-3600,-3400,-3200],"labelExpr":"'' + datum.value","grid":false,"ticks":false,"tickSize":0,"domain":false,"labelColor":"#4D4D4D","labelFontSize":15,"labelPadding":6,"title":"Mean L(K) ± SD","titleY":164,"titleColor":"#5A1919","titleFontSize":20,"titleFontWeight":"normal","titlePadding":4}}},
   "layer":[
    {"mark":{"type":"line","color":"#5A1919","strokeWidth":5,"strokeJoin":"round"}},
    {"transform":[{"filter":"datum.K == 2"}],"mark":{"type":"point","filled":true,"color":"#5A1919","size":200,"opacity":1}},
    {"mark":{"type":"rule","color":"#000000","strokeWidth":1.3},"encoding":{"y":{"field":"lo","type":"quantitative","scale":{"domain":[-3824.2,-3059.2],"range":[319,13],"nice":false,"zero":false},
     "axis":{"orient":"right","values":[-3800,-3600,-3400,-3200],"labelExpr":"'' + datum.value","grid":false,"ticks":false,"tickSize":0,"domain":false,"labelColor":"#4D4D4D","labelFontSize":15,"labelPadding":6,"title":"Mean L(K) ± SD","titleY":164,"titleColor":"#5A1919","titleFontSize":20,"titleFontWeight":"normal","titlePadding":4}},"y2":{"field":"hi"}}},
    {"mark":{"type":"tick","orient":"horizontal","size":28,"thickness":1.3,"color":"#000000","opacity":1},"encoding":{"y":{"field":"lo","type":"quantitative","scale":{"domain":[-3824.2,-3059.2],"range":[319,13],"nice":false,"zero":false},
     "axis":{"orient":"right","values":[-3800,-3600,-3400,-3200],"labelExpr":"'' + datum.value","grid":false,"ticks":false,"tickSize":0,"domain":false,"labelColor":"#4D4D4D","labelFontSize":15,"labelPadding":6,"title":"Mean L(K) ± SD","titleY":164,"titleColor":"#5A1919","titleFontSize":20,"titleFontWeight":"normal","titlePadding":4}}}},
    {"mark":{"type":"tick","orient":"horizontal","size":28,"thickness":1.3,"color":"#000000","opacity":1},"encoding":{"y":{"field":"hi","type":"quantitative","scale":{"domain":[-3824.2,-3059.2],"range":[319,13],"nice":false,"zero":false},
     "axis":{"orient":"right","values":[-3800,-3600,-3400,-3200],"labelExpr":"'' + datum.value","grid":false,"ticks":false,"tickSize":0,"domain":false,"labelColor":"#4D4D4D","labelFontSize":15,"labelPadding":6,"title":"Mean L(K) ± SD","titleY":164,"titleColor":"#5A1919","titleFontSize":20,"titleFontWeight":"normal","titlePadding":4}}}}
   ]}
 ],
 "resolve":{"scale":{"y":"independent"}}},
{"width":341,"height":334,
 "title":{"text":"(e)","anchor":"start","frame":"bounds","offset":7,"dx":-6,"font":"Lato","fontSize":21,"fontWeight":"bold","color":"#000000"},
 "encoding":{"x":{"field":"g","type":"nominal","scale":{"type":"point","padding":0.6,"domain":["Group.1","Group.2"]},
   "axis":{"grid":true,"gridColor":"#EBEBEB","ticks":false,"tickSize":0,"domain":false,"labelAngle":0,"labelColor":"#4D4D4D","labelFontSize":15,"labelPadding":12,"title":"Population group","titleFontSize":19,"titleFontWeight":"normal","titleColor":"#000000","titlePadding":8}}},
 "layer":[
  {"data":{"name":"box"},
   "layer":[
    {"mark":{"type":"rule","strokeWidth":1.5},
     "encoding":{"y":{"field":"lo","type":"quantitative","scale":{"domain":[0.077,1.153],"nice":false,"zero":false},
        "axis":{"values":[0.15,0.3,0.45,0.6,0.75,0.9,1.05],"labelExpr":"(datum.value == 0.3 || datum.value == 0.6 || datum.value == 0.9) ? datum.label : ''","grid":true,"gridColor":"#EBEBEB","ticks":false,"tickSize":0,"domain":false,"labelColor":"#4D4D4D","labelFontSize":15,"labelPadding":10,"labelOverlap":false,"title":"Probabiliy [mean Q-value]","titleFontSize":20,"titleFontWeight":"normal","titleColor":"#1A1A1A","titlePadding":8}},
      "y2":{"field":"hi"},
      "color":{"field":"g","type":"nominal","scale":{"domain":["Group.1","Group.2"],"range":["#5A1919","#FF7070"]},"legend":null}}},
    {"mark":{"type":"bar","width":117,"fill":"#FFFFFF","strokeWidth":1.6},
     "encoding":{"y":{"field":"q1","type":"quantitative","scale":{"domain":[0.077,1.153],"nice":false,"zero":false},
        "axis":{"values":[0.15,0.3,0.45,0.6,0.75,0.9,1.05],"labelExpr":"(datum.value == 0.3 || datum.value == 0.6 || datum.value == 0.9) ? datum.label : ''","grid":true,"gridColor":"#EBEBEB","ticks":false,"tickSize":0,"domain":false,"labelColor":"#4D4D4D","labelFontSize":15,"labelPadding":10,"labelOverlap":false,"title":"Probabiliy [mean Q-value]","titleFontSize":20,"titleFontWeight":"normal","titleColor":"#1A1A1A","titlePadding":8}},"y2":{"field":"q3"},
      "stroke":{"field":"g","type":"nominal","scale":{"domain":["Group.1","Group.2"],"range":["#5A1919","#FF7070"]},"legend":null}}},
    {"mark":{"type":"tick","size":117,"thickness":2.5,"opacity":1},
     "encoding":{"y":{"field":"med","type":"quantitative","scale":{"domain":[0.077,1.153],"nice":false,"zero":false},
        "axis":{"values":[0.15,0.3,0.45,0.6,0.75,0.9,1.05],"labelExpr":"(datum.value == 0.3 || datum.value == 0.6 || datum.value == 0.9) ? datum.label : ''","grid":true,"gridColor":"#EBEBEB","ticks":false,"tickSize":0,"domain":false,"labelColor":"#4D4D4D","labelFontSize":15,"labelPadding":10,"labelOverlap":false,"title":"Probabiliy [mean Q-value]","titleFontSize":20,"titleFontWeight":"normal","titleColor":"#1A1A1A","titlePadding":8}},
      "color":{"field":"g","type":"nominal","scale":{"domain":["Group.1","Group.2"],"range":["#5A1919","#FF7070"]},"legend":null}}}
   ]},
  {"data":{"name":"out"},"mark":{"type":"point","filled":true,"size":40,"color":"#5A1919","opacity":1},
   "encoding":{"y":{"field":"v","type":"quantitative","scale":{"domain":[0.077,1.153],"nice":false,"zero":false},
        "axis":{"values":[0.15,0.3,0.45,0.6,0.75,0.9,1.05],"labelExpr":"(datum.value == 0.3 || datum.value == 0.6 || datum.value == 0.9) ? datum.label : ''","grid":true,"gridColor":"#EBEBEB","ticks":false,"tickSize":0,"domain":false,"labelColor":"#4D4D4D","labelFontSize":15,"labelPadding":10,"labelOverlap":false,"title":"Probabiliy [mean Q-value]","titleFontSize":20,"titleFontWeight":"normal","titleColor":"#1A1A1A","titlePadding":8}}}},
  {"data":{"name":"note"},"mark":{"type":"text","align":"left","dx":10,"fontSize":19,"color":"#000000"},
   "encoding":{"x":{"datum":"Group.1"},"y":{"datum":1.12,"type":"quantitative","scale":{"domain":[0.077,1.153],"nice":false,"zero":false},
        "axis":{"values":[0.15,0.3,0.45,0.6,0.75,0.9,1.05],"labelExpr":"(datum.value == 0.3 || datum.value == 0.6 || datum.value == 0.9) ? datum.label : ''","grid":true,"gridColor":"#EBEBEB","ticks":false,"tickSize":0,"domain":false,"labelColor":"#4D4D4D","labelFontSize":15,"labelPadding":10,"labelOverlap":false,"title":"Probabiliy [mean Q-value]","titleFontSize":20,"titleFontWeight":"normal","titleColor":"#1A1A1A","titlePadding":8}},"text":{"field":"label"}}}
 ]}
],
"spacing":120,
"bounds":"flush"
}
],
"columns":2,
"spacing":10
}
